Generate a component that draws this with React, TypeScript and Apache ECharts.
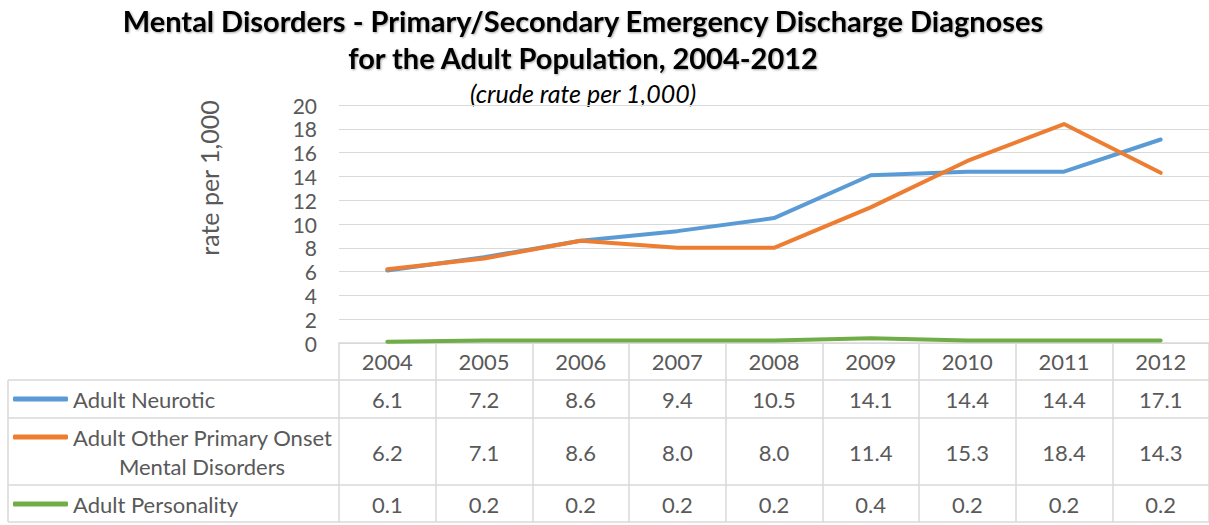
import React, { useEffect, useRef } from "react";
import * as echarts from "echarts";

const years = ["2004", "2005", "2006", "2007", "2008", "2009", "2010", "2011", "2012"];
const neurotic = [6.1, 7.2, 8.6, 9.4, 10.5, 14.1, 14.4, 14.4, 17.1];
const otherPrimary = [6.2, 7.1, 8.6, 8.0, 8.0, 11.4, 15.3, 18.4, 14.3];
const personality = [0.1, 0.2, 0.2, 0.2, 0.2, 0.4, 0.2, 0.2, 0.2];
const seriesNames = ["Adult Neurotic", "Adult Other Primary Onset Mental Disorders", "Adult Personality"];
const yTicks = { min: 0, max: 20, interval: 2 };

const TEXT = "#595959";
const GRIDC = "#d9d9d9";
const FONT = "Lato, 'Open Sans', sans-serif";

export default function App() {
  const ref = useRef<HTMLDivElement>(null);
  useEffect(() => {
    if (!ref.current) return;
    const chart = echarts.init(ref.current, null, { renderer: "svg" });
    const gridLeft = 339, gridTop = 105, gridW = 874, gridH = 238;
    const rowOffsets = [38, 91, 143];
    const rows = [neurotic, otherPrimary, personality];
    const legendTops = [387, 425, 492];
    const colors = ["#5B9BD5", "#ED7D31", "#70AD47"];
    const hLines = [380, 418, 485, 522];
    const tableFont = 22;

    const extraX = rows.map((r, i) => ({
      type: "category",
      gridIndex: 0,
      position: "bottom",
      offset: rowOffsets[i],
      data: r.map((v) => v.toFixed(1)),
      boundaryGap: true,
      axisLine: { show: false },
      axisTick: { show: false },
      splitLine: { show: false },
      axisLabel: { interval: 0, margin: 7, color: TEXT, fontSize: tableFont, fontFamily: FONT },
    }));

    chart.setOption({
      animation: false,
      textStyle: { fontFamily: FONT },
      grid: { left: gridLeft, top: gridTop, width: gridW, height: gridH, containLabel: false },
      xAxis: [
        {
          type: "category",
          data: years,
          boundaryGap: true,
          axisLine: { show: true, lineStyle: { color: GRIDC, width: 1.5 } },
          axisTick: { show: true, interval: 0, length: 179, lineStyle: { color: GRIDC, width: 1.5 } },
          axisLabel: { interval: 0, margin: 7, color: TEXT, fontSize: tableFont, fontFamily: FONT },
          splitLine: { show: false },
        },
        ...extraX,
      ],
      yAxis: {
        type: "value",
        min: yTicks.min,
        max: yTicks.max,
        interval: yTicks.interval,
        axisLine: { show: false },
        axisTick: { show: false },
        axisLabel: { margin: 22, color: TEXT, fontSize: 21, fontFamily: FONT },
        splitLine: { lineStyle: { color: GRIDC, width: 1.2 } },
      },
      legend: seriesNames.map((n, i) => ({
        data: [n],
        left: 13,
        top: legendTops[i],
        padding: 0,
        icon: "roundRect",
        itemWidth: 55,
        itemHeight: 5,
        itemGap: 5,
        selectedMode: false,
        formatter: i === 1 ? () => "Adult Other Primary Onset" : undefined,
        textStyle: { color: TEXT, fontSize: tableFont, lineHeight: 24, fontFamily: FONT, padding: [0, 0, 0, 0] },
      })),
      series: [neurotic, otherPrimary, personality].map((d, i) => ({
        name: seriesNames[i],
        type: "line",
        data: d,
        xAxisIndex: 0,
        smooth: false,
        symbol: "none",
        lineStyle: { color: colors[i], width: 4, cap: "round", join: "round" },
        itemStyle: { color: colors[i] },
      })),
      graphic: [
        {
          type: "text",
          style: {
            text: "Mental Disorders - Primary/Secondary Emergency Discharge Diagnoses\nfor the Adult Population, 2004-2012",
            x: 583,
            y: 2,
            align: "center",
            verticalAlign: "top",
            font: `bold 29px ${FONT}`,
            lineHeight: 37,
            fill: "#000",
            textShadowColor: "rgba(0,0,0,0.35)",
            textShadowBlur: 2,
            textShadowOffsetX: 1,
            textShadowOffsetY: 1,
          },
        },
        {
          type: "text",
          style: {
            text: "(crude rate per 1,000)",
            x: 583,
            y: 93,
            align: "center",
            verticalAlign: "middle",
            font: `italic 25px ${FONT}`,
            fill: "#000",
          },
        },
        {
          type: "text",
          x: 209,
          y: 178,
          rotation: Math.PI / 2,
          style: {
            text: "rate per 1,000",
            x: 0,
            y: 0,
            align: "center",
            verticalAlign: "middle",
            font: `25px ${FONT}`,
            fill: TEXT,
          },
        },
        {
          type: "text",
          style: {
            text: "Mental Disorders",
            x: 202,
            y: 466,
            align: "center",
            verticalAlign: "middle",
            font: `${tableFont}px ${FONT}`,
            fill: TEXT,
          },
        },
        ...hLines.map((y) => ({
          type: "line",
          shape: { x1: 8, y1: y, x2: 1213, y2: y },
          style: { stroke: GRIDC, lineWidth: 1.5 },
        })),
        {
          type: "line",
          shape: { x1: 8, y1: hLines[0], x2: 8, y2: hLines[3] },
          style: { stroke: GRIDC, lineWidth: 1.5 },
        },
      ],
    });
    return () => chart.dispose();
  }, []);
  return <div ref={ref} style={{ position: "absolute", left: 0, top: 0, width: 1209, height: 525 }} />;
}
